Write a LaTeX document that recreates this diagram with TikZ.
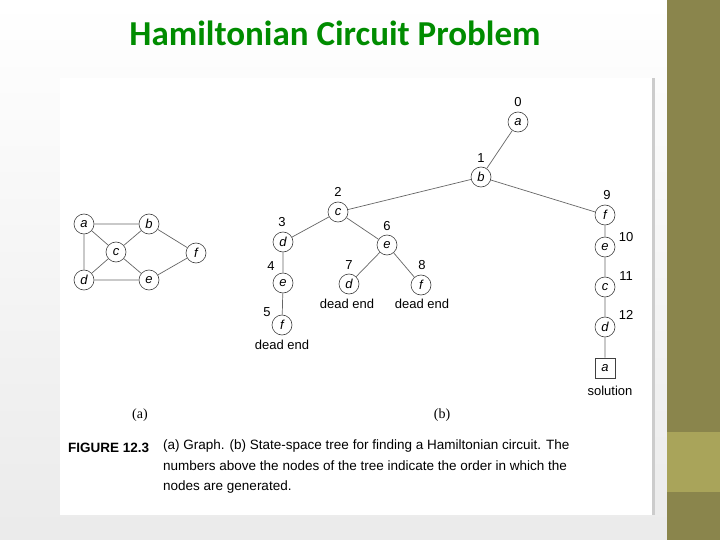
\documentclass[tikz,border=0pt]{standalone}
\usepackage{fontspec}
\setmainfont{Liberation Sans}
\newfontfamily\titlefont{Carlito}
\newfontfamily\serifcap{Liberation Serif}
\begin{document}
\begin{tikzpicture}[x=1pt,y=-1pt,
  vtx/.style={circle,draw=black!75,line width=0.6pt,fill=white,minimum size=20pt,inner sep=0pt,font=\fontsize{13}{13}\selectfont\itshape},
  lbl/.style={font=\fontsize{13}{13}\selectfont,inner sep=0pt},
  edge/.style={draw=black!60,line width=0.7pt}]
\useasboundingbox (0,0) rectangle (720,540);
\shade[top color=white,bottom color=black!8] (0,0) rectangle (667,540);
\fill[white] (60,78) rectangle (652,515);
\fill[black!20] (652,78) rectangle (655,515);
\fill[olive!60!black!75] (667,0) rectangle (720,540);
\fill[olive!55!white!85!black] (667,432) rectangle (720,492);
\node[font=\titlefont\bfseries\fontsize{35}{35}\selectfont,text=green!55!black] (title) at (335,33) {Hamiltonian Circuit Problem};
% graph (a)
\node[vtx] (ga) at (84,224) {a};
\node[vtx] (gb) at (149,224) {b};
\node[vtx] (gc) at (116,252) {c};
\node[vtx] (gf) at (196,253) {f};
\node[vtx] (gd) at (84,280) {d};
\node[vtx] (ge) at (149,280) {e};
\draw[edge] (ga)--(gb) (ga)--(gd) (ga)--(gc) (gb)--(gc) (gb)--(gf) (gc)--(gd) (gc)--(ge) (gd)--(ge) (ge)--(gf);
% tree (b)
\node[vtx] (t0) at (518,122) {a};
\node[vtx] (t1) at (481,177) {b};
\node[vtx] (t2) at (338,212) {c};
\node[vtx] (t9) at (605,215) {f};
\node[vtx] (t3) at (283,242) {d};
\node[vtx] (t6) at (387,245) {e};
\node[vtx] (t4) at (283,283) {e};
\node[vtx] (t7) at (349,284) {d};
\node[vtx] (t8) at (421,285) {f};
\node[vtx] (t5) at (282,325) {f};
\node[vtx] (t10) at (605,247) {e};
\node[vtx] (t11) at (605,287) {c};
\node[vtx] (t12) at (605,327) {d};
\node[draw=black!75,line width=0.6pt,minimum size=20pt,inner sep=0pt,font=\fontsize{13}{13}\selectfont\itshape] (t13) at (605,368) {a};
\draw[edge] (t0)--(t1) (t1)--(t2) (t1)--(t9) (t2)--(t3) (t2)--(t6) (t3)--(t4) (t4)--(t5) (t6)--(t7) (t6)--(t8) (t9)--(t10) (t10)--(t11) (t11)--(t12) (t12)--(t13);
\node[lbl] (n0) at (518,102) {0};
\node[lbl] (n1) at (481,158) {1};
\node[lbl] (n2) at (338,192) {2};
\node[lbl] (n9) at (607,195) {9};
\node[lbl] (n3) at (282,222) {3};
\node[lbl] (n6) at (387,226) {6};
\node[lbl] (n4) at (271,266) {4};
\node[lbl] (n7) at (349,265) {7};
\node[lbl] (n8) at (422,265) {8};
\node[lbl] (n5) at (267,312) {5};
\node[lbl] (n10) at (626,237) {10};
\node[lbl] (n11) at (626,276) {11};
\node[lbl] (n12) at (626,315) {12};
\node[lbl] (de1) at (347,304) {dead end};
\node[lbl] (de2) at (422,304) {dead end};
\node[lbl] (de3) at (282,345) {dead end};
\node[lbl] (sol) at (610,391) {solution};
\node[font=\serifcap\fontsize{14}{14}\selectfont] (capa) at (140,415) {(a)};
\node[font=\serifcap\fontsize{14}{14}\selectfont] (capb) at (442,415) {(b)};
\node[anchor=west,inner sep=0pt,font=\bfseries\fontsize{13.5}{13.5}\selectfont] (fig) at (68,448) {FIGURE 12.3};
\node[anchor=north west,inner sep=0pt,align=left,font=\fontsize{13.5}{20.5}\selectfont] (cap) at (163,440) {(a) Graph. (b) State-space tree for finding a Hamiltonian circuit. The\\ numbers above the nodes of the tree indicate the order in which the\\ nodes are generated.};
\end{tikzpicture}
\end{document}
